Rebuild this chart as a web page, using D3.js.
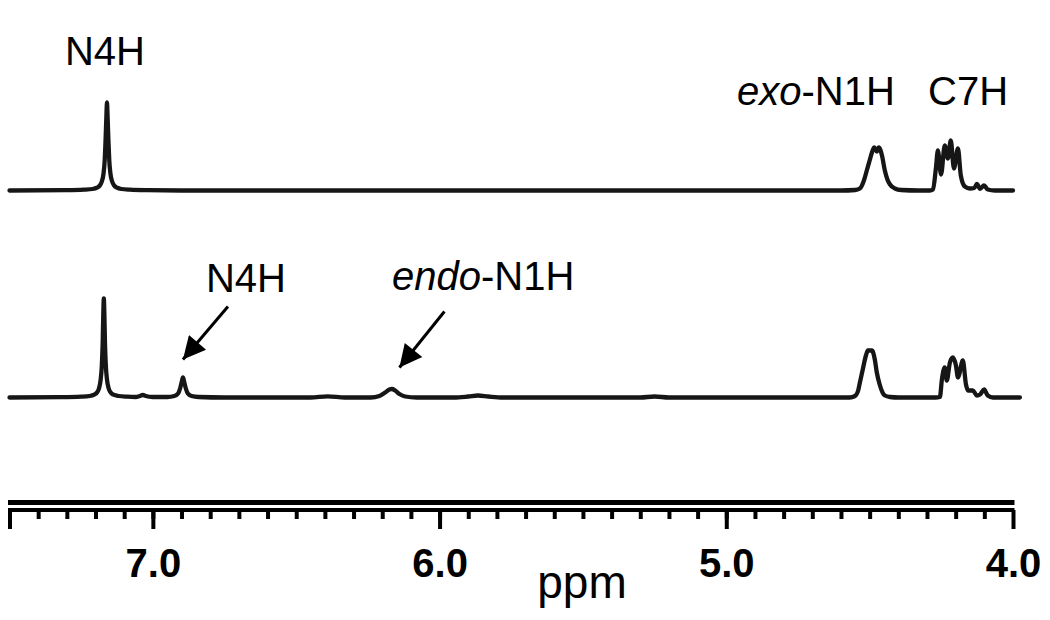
<!DOCTYPE html>
<html lang="en">
<head>
<meta charset="UTF-8">
<title>NMR spectra</title>
<script src="https://d3js.org/d3.v7.min.js"></script>
<style>
  body { margin: 0; background: #fff; }
  svg { display: block; }
  text { font-family: "Liberation Sans", Arial, sans-serif; fill: #000; }
  .trace { fill: none; stroke: #161616; stroke-width: 4.3px; stroke-linejoin: round; stroke-linecap: round; }
</style>
</head>
<body>
<svg id="chart" width="1050" height="620"></svg>
<script>
// spectra: [ppm, intensity above baseline]
var topTrace = [
  [7.50,0],[7.30,0.3],[7.24,0.8],[7.21,1.5],[7.195,2.8],[7.185,5],[7.178,9],[7.172,17],[7.168,30],[7.165,50],
  [7.162,75],[7.160,88],[7.158,75],[7.155,50],[7.152,30],[7.148,17],[7.142,9],[7.135,5],[7.125,2.8],[7.11,1.5],
  [7.08,0.8],[7.02,0.3],[6.90,0],
  [4.60,0],[4.551,0.5],[4.534,2],[4.520,10],[4.510,20],[4.500,30],[4.492,38],[4.484,43],[4.475,39],[4.468,43],
  [4.457,35],[4.447,20],[4.438,11],[4.429,6],[4.412,2],[4.390,0.5],[4.330,0],
  [4.290,0],[4.279,1],[4.269,22],[4.262,40],[4.251,16],[4.238,45],[4.227,32],[4.217,50],[4.206,22],[4.192,42],
  [4.182,15],[4.168,4],[4.150,2],[4.135,2.5],[4.126,6.5],[4.115,1.7],[4.101,5],[4.088,1],[4.063,0],[4.000,0]
];
var bottomTrace = [
  [7.50,0],[7.32,0.3],[7.25,0.8],[7.22,1.5],[7.205,2.8],[7.195,5],[7.188,9],[7.182,18],[7.178,32],[7.175,55],
  [7.173,82],[7.171,99],[7.169,82],[7.167,55],[7.164,32],[7.160,18],[7.154,9],[7.147,5],[7.137,2.8],[7.12,1.5],
  [7.09,0.8],[7.06,0.5],[7.045,1.5],[7.035,2.5],[7.025,1.5],[7.00,0.5],[6.95,0.5],[6.925,1.5],[6.912,4],[6.905,9],
  [6.899,16],[6.895,20],[6.891,16],[6.885,9],[6.878,4],[6.865,1.5],[6.84,0.5],[6.75,0],
  [6.45,0],[6.39,1.2],[6.33,0],[6.24,0],[6.21,1.5],[6.19,5],[6.175,8],[6.166,8.5],[6.155,7],[6.14,3.5],[6.12,1],
  [6.08,0],[5.95,0],[5.90,1],[5.866,2],[5.83,1],[5.78,0],[5.30,0],[5.25,1],[5.20,0],
  [4.570,0],[4.551,1.5],[4.540,7],[4.534,15],[4.524,28],[4.513,42],[4.506,47],[4.492,47],[4.482,38],[4.475,25],
  [4.464,12],[4.455,5],[4.447,2],[4.429,0.5],[4.40,0],
  [4.270,0],[4.255,0.5],[4.248,18],[4.238,30],[4.231,17],[4.220,35],[4.210,40],[4.199,32],[4.192,20],[4.175,37],
  [4.164,13],[4.157,7],[4.140,7],[4.126,2],[4.115,3],[4.101,8],[4.088,2],[4.070,0],[3.976,0]
];

var majorTicks = [7.5, 7.0, 6.0, 5.0, 4.0];
var tickLabels = {"7": "7.0", "6": "6.0", "5": "5.0", "4": "4.0"};

// peak labels
var topLabels = [
  {parts: [["N4H", false]], x: 105, y: 65, anchor: "middle"},
  {parts: [["exo", true], ["-N1H", false]], x: 737, y: 105, anchor: "start"},
  {parts: [["C7H", false]], x: 928, y: 105, anchor: "start"}
];
var bottomLabels = [
  {parts: [["N4H", false]], x: 246, y: 292, anchor: "middle"},
  {parts: [["endo", true], ["-N1H", false]], x: 392, y: 290, anchor: "start"}
];
// arrows point at peaks: tip ppm, tip height above baseline
var arrows = [
  {ppm: 6.895, h: 38, dx: 45, dy: -53},
  {ppm: 6.14, h: 30, dx: 45, dy: -56}
];

var svg = d3.select("#chart");
var x = d3.scaleLinear().domain([7.5, 4.0]).range([9.5, 1013]);
var yTop = d3.scaleLinear().domain([0, 100]).range([190.5, 90.5]);
var yBot = d3.scaleLinear().domain([0, 100]).range([397.5, 297.5]);

function drawTrace(data, y) {
  var line = d3.line()
    .x(function(d){ return x(d[0]); })
    .y(function(d){ return y(d[1]); })
    .curve(d3.curveMonotoneX);
  var sorted = data.slice().sort(function(a, b){ return b[0] - a[0]; });
  svg.append("path").attr("class", "trace").attr("d", line(sorted));
}
drawTrace(topTrace, yTop);
drawTrace(bottomTrace, yBot);

function drawLabels(list) {
  list.forEach(function(l) {
    var t = svg.append("text")
      .attr("x", l.x).attr("y", l.y)
      .attr("text-anchor", l.anchor)
      .style("font-size", "40px");
    l.parts.forEach(function(p) {
      t.append("tspan").text(p[0]).style("font-style", p[1] ? "italic" : "normal");
    });
  });
}
drawLabels(topLabels);
drawLabels(bottomLabels);

// arrows
var defs = svg.append("defs");
defs.append("marker")
  .attr("id", "head")
  .attr("viewBox", "0 0 10 10")
  .attr("refX", 10).attr("refY", 5)
  .attr("markerWidth", 9).attr("markerHeight", 7.5)
  .attr("markerUnits", "strokeWidth")
  .attr("orient", "auto")
  .append("path").attr("d", "M0,0 L10,5 L0,10 Z").attr("fill", "#000");

arrows.forEach(function(a) {
  var tx = x(a.ppm), ty = yBot(a.h);
  svg.append("line")
    .attr("x1", tx + a.dx).attr("y1", ty + a.dy)
    .attr("x2", tx).attr("y2", ty)
    .attr("stroke", "#000").attr("stroke-width", 3)
    .attr("marker-end", "url(#head)");
});

// axis: double rule, minor and major ticks
var axisY = 510;
var r = x.range();
svg.append("line").attr("x1", r[0] - 1.5).attr("x2", r[1] + 1.5)
  .attr("y1", axisY - 7.5).attr("y2", axisY - 7.5)
  .attr("stroke", "#000").attr("stroke-width", 5);
svg.append("line").attr("x1", r[0] - 1.5).attr("x2", r[1] + 1.5)
  .attr("y1", axisY).attr("y2", axisY)
  .attr("stroke", "#000").attr("stroke-width", 4);

var minorAxis = d3.axisBottom(x)
  .tickValues(d3.range(41, 75).map(function(v){ return v / 10; }))
  .tickSize(9).tickSizeOuter(0).tickFormat("");
var gMinor = svg.append("g").attr("transform", "translate(0," + axisY + ")").call(minorAxis);
gMinor.select(".domain").remove();
gMinor.selectAll(".tick line").attr("stroke", "#000").attr("stroke-width", 4);

var majorAxis = d3.axisBottom(x)
  .tickValues(majorTicks)
  .tickSize(19).tickSizeOuter(0)
  .tickFormat(function(d){ return tickLabels[String(d)] || ""; });
var gMajor = svg.append("g").attr("transform", "translate(0," + axisY + ")").call(majorAxis);
gMajor.select(".domain").remove();
gMajor.selectAll(".tick line").attr("stroke", "#000").attr("stroke-width", 4);
gMajor.selectAll(".tick text")
  .attr("y", 67).attr("dy", 0)
  .attr("fill", "#000")
  .style("font-family", "'Liberation Sans', Arial, sans-serif")
  .style("font-size", "40px").style("font-weight", "bold");

svg.append("text")
  .attr("x", 582).attr("y", 598)
  .attr("text-anchor", "middle")
  .style("font-size", "46px")
  .text("ppm");
</script>
</body>
</html>
